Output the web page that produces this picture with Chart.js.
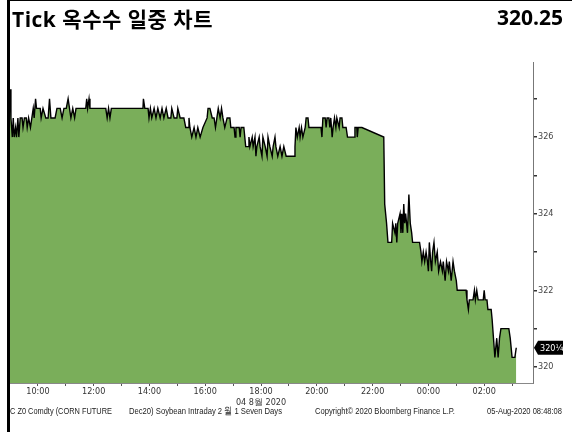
<!DOCTYPE html>
<html lang="ko">
<head>
<meta charset="UTF-8">
<title>Tick 옥수수 일중 차트</title>
<script src="https://cdn.jsdelivr.net/npm/chart.js"></script>
<style>
  body { margin: 0; background: #fff; }
  #wrap { position: relative; width: 572px; height: 432px; overflow: hidden;
          font-family: "Liberation Sans", "DejaVu Sans", sans-serif; }
  #frameLeft { position: absolute; left: 7px; top: 0; width: 3px; height: 432px; background: #000; }
  #frameTop { position: absolute; left: 7px; top: 0; width: 565px; height: 1px; background: #000; }
  .head { position: absolute; top: 3px; font: bold 21px "Open Sans", "Noto Sans CJK KR", sans-serif; color: #000; white-space: nowrap; }
  .foot { position: absolute; top: 405px; font-size: 9.5px; color: #222; white-space: nowrap; transform-origin: left center; }
  canvas { position: absolute; left: 0; top: 0; }
</style>
</head>
<body>
<div id="wrap">
  <canvas id="tickChart" width="572" height="432"></canvas>
  <div id="frameLeft"></div>
  <div id="frameTop"></div>
  <div class="head" style="left:12px; letter-spacing:0.5px">Tick 옥수수 일중 차트</div>
  <div class="head" style="right:9px">320.25</div>
  <div class="foot" data-w="102" style="left:10px">C Z0 Comdty (CORN FUTURE</div>
  <div class="foot" data-w="153" style="left:129px">Dec20) Soybean Intraday 2 월 1 Seven Days</div>
  <div class="foot" data-w="140" style="left:315px">Copyright© 2020 Bloomberg Finance L.P.</div>
  <div class="foot" data-w="75" style="left:487px">05-Aug-2020 08:48:08</div>
</div>

<script>
  // tick times (04 Aug 09:00 -> 05 Aug 03:09) and prices
  const times = [
    '09:00','09:02','09:05','09:07','09:09','09:12','09:14','09:17','09:19','09:22',
    '09:26','09:28','09:31','09:35','09:37','09:40','09:44','09:47','09:50','09:52',
    '09:55','09:57','10:05','10:07','10:11','10:17','10:22','10:25','10:28','10:37',
    '10:41','10:48','10:52','10:56','11:01','11:05','11:08','11:11','11:15','11:19',
    '11:22','11:43','11:45','11:47','11:50','11:52','12:26','12:29','12:32','12:35',
    '12:38','13:46','13:47','13:50','13:57','13:59','14:02','14:05','14:10','14:14',
    '14:18','14:23','14:27','14:31','14:36','14:40','14:46','14:48','14:53','14:59',
    '15:01','15:06','15:14','15:18','15:23','15:25','15:27','15:31','15:36','15:40',
    '15:44','15:49','15:55','16:04','16:06','16:10','16:15','16:19','16:22','16:25',
    '16:28','16:32','16:35','16:38','16:42','16:47','16:53','16:55','17:02','17:04',
    '17:06','17:13','17:15','17:17','17:23','17:27','17:32','17:34','17:36','17:41',
    '17:43','17:47','17:49','17:51','17:56','17:58','18:02','18:04','18:09','18:13',
    '18:15','18:19','18:24','18:26','18:30','18:32','18:36','18:41','18:45','18:49',
    '18:54','19:11','19:13','19:15','19:18','19:22','19:24','19:27','19:30','19:35',
    '19:37','19:41','19:43','20:09','20:11','20:13','20:18','20:20','20:22','20:26',
    '20:28','20:30','20:33','20:35','20:38','20:41','20:43','20:48','20:50','20:54',
    '20:56','21:03','21:06','21:20','21:22','21:26','21:27','21:29','21:37','22:24',
    '22:26','22:30','22:33','22:41','22:43','22:48','22:50','22:52','22:54','22:59',
    '23:01','23:03','23:05','23:07','23:09','23:11','23:15','23:18','23:21','23:24',
    '23:26','23:41','23:44','23:46','23:49','23:52','23:55','23:58','00:00','00:02',
    '00:05','00:07','00:09','00:12','00:15','00:19','00:22','00:26','00:30','00:32',
    '00:36','00:39','00:43','00:45','00:49','00:53','00:56','01:00','01:02','01:21',
    '01:23','01:26','01:28','01:36','01:39','01:41','01:44','01:47','01:58','02:00',
    '02:02','02:06','02:08','02:15','02:17','02:20','02:23','02:27','02:30','02:33',
    '02:36','02:53','02:56','03:00','03:06','03:09'
  ];
  const prices = [
    327.25,326.5,326,326.5,326,326.25,326,326.5,326,326.5,
    326.5,326.25,326.5,326.5,326.25,326.5,326.25,326.5,326.75,326.5,
    327,326.75,326.75,326.5,326.75,326.5,326.5,327,326.5,326.5,
    326.75,326.75,326.5,326.75,326.75,327,326.75,326.5,326.75,326.5,
    326.75,326.75,327,326.75,327,326.75,326.75,326.5,326.75,326.5,
    326.75,326.75,327,326.75,326.75,326.5,326.75,326.5,326.75,326.5,
    326.75,326.5,326.75,326.5,326.75,326.5,326.5,326.75,326.5,326.5,
    326.75,326.5,326.5,326.25,326.25,326.5,326.25,326,326.25,326,
    326.25,326,326.25,326.5,326.75,326.75,326.5,326.5,326.25,326.5,
    326.75,326.5,326.75,326.5,326.25,326.5,326.5,326.25,326.25,326,
    326.25,326.25,326,326.25,326.25,325.75,325.75,326,325.75,326,
    325.75,326,325.5,325.75,326,325.75,325.5,326,325.75,325.5,
    326,325.75,325.5,325.75,326,325.75,325.5,325.75,325.5,325.75,
    325.5,325.5,325.75,326.25,326,326.25,326,326.25,326,326.25,
    326.5,326.5,326.25,326.25,326,326.5,326.5,326.25,326.5,326.5,
    326.25,326.5,326,326.25,326.5,326.25,326.5,326.25,326.5,326.5,
    326.25,326.25,326,326,326.25,326.25,326,326.25,326.25,326,
    324.25,323.75,323.25,323.25,323.75,323.5,323.75,323.25,323.75,324,
    323.5,324,323.5,324.25,323.75,324,323.5,324.5,323.75,323.5,
    323.25,323.25,323,322.75,323,322.75,323,322.75,322.5,323.25,
    322.75,322.5,323,323.25,322.75,323,322.5,322.75,322.5,322.75,
    322.25,322.75,322.5,322.75,322.25,322.75,322.5,322.25,322,322,
    321.75,321.5,321.75,321.75,322,321.75,322,321.75,321.75,322,
    321.75,321.75,321.5,321.5,321.25,320.75,320.25,320.75,320.25,320.75,
    321,321,320.75,320.25,320.25,320.5
  ];

  const hourTicks = [10, 11, 12, 13, 14, 15, 16, 17, 18, 19, 20, 21, 22, 23, 24, 25, 26, 27];
  const labelHours = [10, 12, 14, 16, 18, 20, 22, 24, 26];
  const dateLabel = '04 8월 2020';
  const priceTicks = [320, 321, 322, 323, 324, 325, 326, 327];
  const priceLabels = [320, 322, 324, 326];
  const lastPriceText = '320¼';

  // hours after midnight of 04 Aug, ticks past midnight belong to the next day
  function toHours(t) {
    const [h, m] = t.split(':').map(Number);
    return (h < 9 ? h + 24 : h) + m / 60;
  }

  const points = times.map((t, i) => ({ x: toHours(t), y: prices[i] }));

  // squeeze footer text to the narrow look of the original
  document.querySelectorAll('.foot').forEach(el => {
    const w = el.getBoundingClientRect().width;
    el.style.transform = 'scaleX(' + (Number(el.dataset.w) / w).toFixed(3) + ')';
  });

  const tickFont = { family: '"Liberation Sans Narrow", "DejaVu Sans Condensed", sans-serif', size: 9 };

  // black price flag on the right axis
  const priceTag = {
    id: 'priceTag',
    afterDraw(chart) {
      const { ctx, scales: { y } } = chart;
      const py = y.getPixelForValue(prices[prices.length - 1]);
      const x0 = y.left + 1;
      ctx.save();
      ctx.fillStyle = '#000';
      ctx.beginPath();
      ctx.moveTo(x0, py);
      ctx.lineTo(x0 + 4, py - 7);
      ctx.lineTo(x0 + 29, py - 7);
      ctx.lineTo(x0 + 29, py + 7);
      ctx.lineTo(x0 + 4, py + 7);
      ctx.closePath();
      ctx.fill();
      ctx.fillStyle = '#fff';
      ctx.font = '9px "Liberation Sans Narrow", "DejaVu Sans Condensed", sans-serif';
      ctx.textBaseline = 'middle';
      ctx.fillText(lastPriceText, x0 + 6, py + 0.5);
      ctx.restore();
    }
  };

  new Chart(document.getElementById('tickChart'), {
    type: 'line',
    data: {
      datasets: [{
        data: points,
        borderColor: '#000',
        borderWidth: 1.4,
        backgroundColor: '#7aae5a',
        fill: 'start',
        pointRadius: 0,
        tension: 0
      }]
    },
    options: {
      responsive: false,
      animation: false,
      layout: { padding: { left: 10, top: 62, right: 0, bottom: 0 } },
      plugins: { legend: { display: false }, tooltip: { enabled: false } },
      scales: {
        x: {
          type: 'linear',
          min: 9,
          max: 27.75,
          afterBuildTicks: scale => { scale.ticks = hourTicks.map(v => ({ value: v })); },
          afterFit: scale => { scale.height = 49; },
          grid: { drawOnChartArea: false, tickLength: 3, color: '#555' },
          border: { color: '#888' },
          ticks: {
            padding: 0,
            maxRotation: 0,
            autoSkip: false,
            color: '#333',
            font: tickFont,
            callback: v => {
              if (!labelHours.includes(v)) return '';
              const s = String(v % 24).padStart(2, '0') + ':00';
              return v === 18 ? [s, dateLabel] : s;
            }
          }
        },
        y: {
          position: 'right',
          min: 319.58,
          max: 327.96,
          afterBuildTicks: scale => { scale.ticks = priceTicks.map(v => ({ value: v })); },
          afterFit: scale => { scale.width = 39; },
          grid: { drawOnChartArea: false, tickLength: 4, color: '#333', lineWidth: 1.5 },
          border: { color: '#777' },
          ticks: {
            padding: 1,
            color: '#444',
            font: tickFont,
            callback: v => priceLabels.includes(v) ? String(v) : ''
          }
        }
      }
    },
    plugins: [priceTag]
  });
</script>
</body>
</html>
